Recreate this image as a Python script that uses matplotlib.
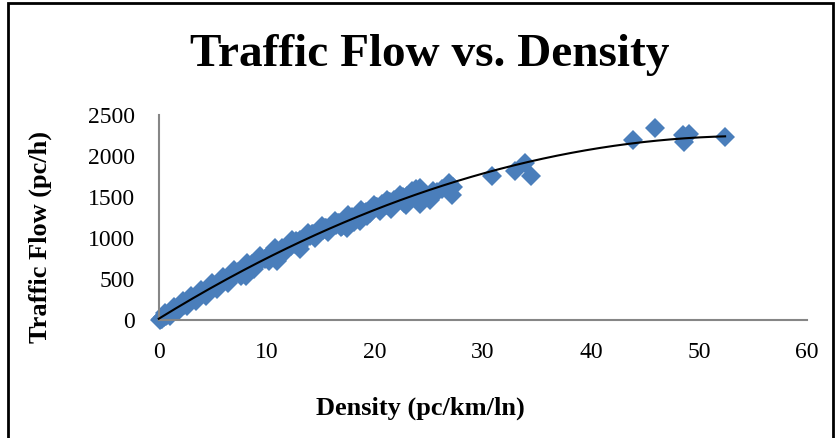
import numpy as np
import matplotlib.pyplot as plt
from matplotlib.patches import Rectangle

# density (pc/km/ln) and flow (pc/h)
density = [0.1, 0.2, 0.3, 0.5, 0.7, 0.9, 1.1, 1.3, 1.5, 1.7, 1.9, 2.1, 2.3, 2.5, 2.7,
           2.9, 3.1, 3.3, 3.5, 3.8, 4.0, 4.2, 4.5, 4.8, 5.0, 5.3, 5.5, 5.8, 6.0, 6.3,
           6.6, 6.9, 7.2, 7.5, 7.8, 8.1, 8.1, 8.4, 8.9, 9.2, 9.5, 9.8, 10.1, 10.4, 10.7,
           10.9, 11.0, 11.3, 11.6, 11.9, 12.2, 12.5, 12.8, 13.1, 13.1, 13.4, 13.7, 14.0,
           14.3, 14.6, 14.9, 15.2, 15.5, 15.8, 16.1, 16.4, 16.7, 17.0, 17.3, 17.4, 17.6,
           17.9, 18.2, 18.6, 18.9, 19.2, 19.5, 19.8, 20.1, 20.4, 20.7, 21.0, 21.3, 21.5,
           21.8, 22.1, 22.4, 22.7, 22.9, 23.0, 23.3, 23.8, 24.0, 24.2, 24.2, 24.2, 25.1,
           25.7, 26.9, 27.1, 27.2, 30.8, 33.0, 33.9, 34.4, 43.9, 45.9, 48.5, 48.6, 49.1,
           52.4,
           # second pass over the dense band
           0.4, 0.8, 1.2, 1.6, 2.0, 2.4, 2.8, 3.2, 3.6, 4.1, 4.6, 5.1, 5.6, 6.1, 6.7,
           7.3, 7.9, 8.6, 9.3, 10.0, 10.6, 11.4, 12.0, 12.7, 13.5, 14.2, 14.8, 15.4,
           16.0, 16.6, 17.2, 17.8, 18.4, 19.0, 19.6, 20.2, 20.8, 21.4, 22.0, 22.6,
           23.2, 23.6, 24.4,
           # edges of the band
           0.6, 1.0, 1.4, 1.8, 2.2, 2.6, 3.0, 3.4, 3.9, 4.4, 4.9, 5.4, 5.9, 6.4, 7.0,
           7.6, 8.2, 8.8, 9.4, 10.2, 10.8, 11.5, 12.3, 13.0, 13.8, 14.5, 15.1, 15.7,
           16.3, 16.9, 17.5, 18.1, 18.7, 19.3, 19.9, 20.5, 21.1, 21.7, 22.3, 22.8,
           23.4, 23.9, 24.6, 25.4, 26.2]
flow = [5, 12, 20, 38, 55, 72, 90, 108, 122, 140, 155, 178, 190, 205, 225,
        238, 255, 272, 285, 312, 330, 345, 365, 390, 410, 430, 450, 470, 492, 505,
        530, 545, 575, 590, 620, 630, 540, 660, 690, 700, 735, 745, 780, 790, 815,
        725, 830, 860, 870, 900, 905, 935, 950, 975, 870, 985, 1010, 1025,
        1050, 1060, 1090, 1095, 1125, 1130, 1160, 1165, 1190, 1150, 1215, 1120, 1230,
        1255, 1240, 1210, 1290, 1320, 1310, 1365, 1380, 1370, 1415, 1400, 1440, 1350,
        1465, 1455, 1480, 1430, 1400, 1520, 1500, 1600, 1560, 1610, 1463, 1420, 1463,
        1565, 1670, 1524, 1626, 1756, 1817, 1911, 1756, 2203, 2338, 2256, 2175, 2276,
        2235,
        35, 62, 100, 140, 170, 200, 232, 265, 300, 335, 380, 420, 462, 500, 545,
        590, 630, 680, 735, 775, 820, 880, 915, 960, 1020, 1055, 1085, 1120,
        1150, 1185, 1220, 1250, 1280, 1310, 1345, 1380, 1415, 1445, 1470, 1500,
        1530, 1545, 1580,
        90, 50, 160, 110, 230, 170, 300, 235, 370, 300, 450, 380, 530, 450, 610,
        540, 700, 630, 785, 720, 875, 810, 975, 910, 1065, 1000, 1145, 1075,
        1215, 1140, 1280, 1200, 1345, 1270, 1410, 1330, 1470, 1390, 1525, 1440,
        1570, 1480, 1530, 1580, 1600]

x_ticks = [0, 10, 20, 30, 40, 50, 60]
y_ticks = [0, 500, 1000, 1500, 2000, 2500]

plt.rcParams['font.family'] = ['Liberation Serif', 'DejaVu Serif']

fig = plt.figure(figsize=(8.4, 4.38), dpi=100)
ax = fig.add_axes([0.189, 0.269, 0.772, 0.468])

ax.plot(density, flow, linestyle='none', marker='D', markersize=10,
        color='#4a7ebb', markeredgewidth=0, zorder=2)

# 2nd order polynomial trendline
coef = np.polyfit(density, flow, 2)
xs = np.linspace(0, max(density), 200)
ax.plot(xs, np.polyval(coef, xs), color='black', linewidth=1.5, zorder=3)

ax.set_xlim(0, 60)
ax.set_ylim(0, 2500)
ax.set_xticks(x_ticks)
ax.set_yticks(y_ticks)
ax.tick_params(length=0, labelsize=17)
ax.tick_params(axis='x', pad=16)
ax.tick_params(axis='y', pad=17)
for s in ['top', 'right']:
    ax.spines[s].set_visible(False)
for s in ['left', 'bottom']:
    ax.spines[s].set_color('#868686')
    ax.spines[s].set_linewidth(1.5)
for line in ax.lines:
    line.set_clip_on(False)

fig.text(0.512, 0.875, 'Traffic Flow vs. Density', ha='center', va='center',
         fontsize=34, fontweight='bold')
fig.text(0.501, 0.068, 'Density (pc/km/ln)', ha='center', va='center',
         fontsize=19, fontweight='bold')
fig.text(0.048, 0.46, 'Traffic Flow (pc/h)', ha='center', va='center',
         fontsize=19, fontweight='bold', rotation=90)

fig.patches.append(Rectangle((8 / 840, -0.05), 825 / 840, 1.05 - 3 / 438,
                             transform=fig.transFigure, fill=False,
                             edgecolor='black', linewidth=2))

fig.savefig('out.png', dpi=100)
